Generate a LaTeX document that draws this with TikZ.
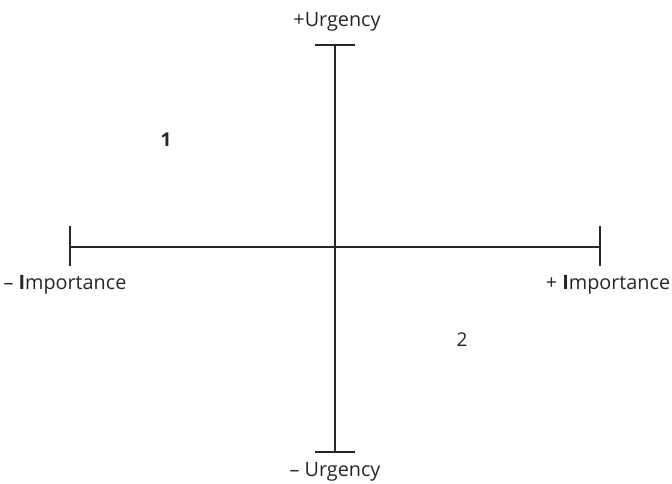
\documentclass[tikz,border=0pt]{standalone}
\usepackage{fontspec}
\setmainfont{Open Sans}
\begin{document}
\begin{tikzpicture}[x=1pt,y=-1pt,
  axis/.style={line width=1.1pt,draw=black!85},
  lbl/.style={font=\fontsize{19.8}{23}\selectfont,text=black!85,inner sep=0pt}]
\useasboundingbox (0,0) rectangle (672,484);
\coordinate (top) at (335,45);
\coordinate (bot) at (335,452);
\coordinate (lft) at (70,247);
\coordinate (rgt) at (600,247);
\draw[axis] (top) -- (bot);
\draw[axis] (lft) -- (rgt);
\draw[axis] ([xshift=-20pt]top) -- ([xshift=20pt]top);
\draw[axis] ([xshift=-20pt]bot) -- ([xshift=20pt]bot);
\draw[axis] ([yshift=-19pt]lft) -- ([yshift=21pt]lft);
\draw[axis] ([yshift=-19pt]rgt) -- ([yshift=21pt]rgt);
\node[lbl] (tu) at (337,22) {+Urgency};
\node[lbl] (bu) at (335,472) {– Urgency};
\node[lbl] (li) at (65,285) {– \textbf{I}mportance};
\node[lbl] (ri) at (608,285) {+ \textbf{I}mportance};
\node[lbl,font=\fontsize{19}{22}\selectfont\bfseries] (q1) at (166,140) {1};
\node[lbl,font=\fontsize{19}{22}\selectfont] (q2) at (462,340) {2};
\end{tikzpicture}
\end{document}
